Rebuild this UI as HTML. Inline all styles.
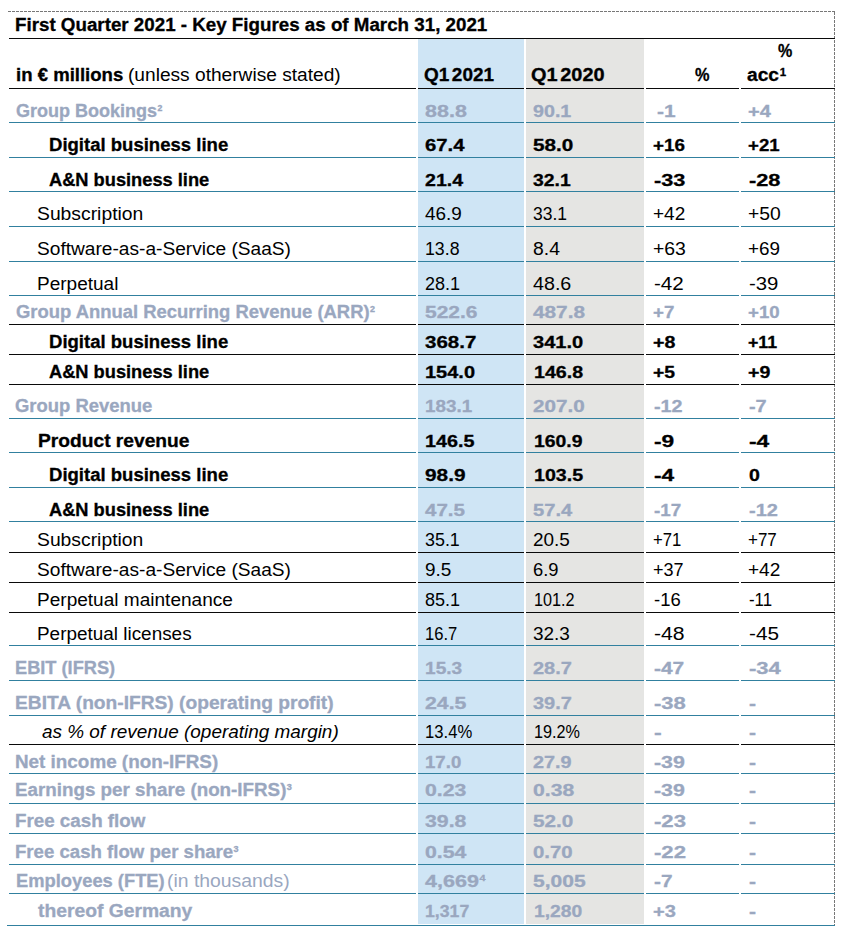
<!DOCTYPE html>
<html lang="en">
<head>
<meta charset="utf-8">
<title>First Quarter 2021 - Key Figures</title>
<style>
html,body{margin:0;padding:0;background:#fff;}
body{width:843px;height:937px;position:relative;overflow:hidden;font-family:"Liberation Sans",sans-serif;font-size:17.5px;}
.bg{position:absolute;}
.l{position:absolute;height:1px;}
.t{position:absolute;white-space:nowrap;line-height:20px;height:20px;transform-origin:0 0;display:block;}
.t sup{font-size:8.5px;line-height:0;vertical-align:baseline;position:relative;top:-6.0px;margin-left:0.4px;}
.dash-top{position:absolute;left:8px;top:11px;width:827px;height:1px;background:repeating-linear-gradient(to right,#777777 0,#777777 3px,transparent 3px,transparent 4px);}
.dash-right{position:absolute;left:834px;top:12px;width:1px;height:913px;background:repeating-linear-gradient(to bottom,#777777 0,#777777 3px,transparent 3px,transparent 4px);}
</style>
</head>
<body>
<div class="dash-top"></div>
<div class="dash-right"></div>
<div class="bg" style="left:418px;top:39px;width:106px;height:885px;background:#cfe5f5;"></div>
<div class="bg" style="left:526px;top:39px;width:118px;height:885px;background:#e5e5e3;"></div>
<div class="l" style="left:9px;top:38px;width:826px;background:#0a0a0a;"></div>
<div class="l" style="left:9px;top:88px;width:407px;background:#0a0a0a;"></div>
<div class="l" style="left:418px;top:88px;width:106px;background:#0a0a0a;"></div>
<div class="l" style="left:526px;top:88px;width:118px;background:#0a0a0a;"></div>
<div class="l" style="left:646px;top:88px;width:93px;background:#0a0a0a;"></div>
<div class="l" style="left:741px;top:88px;width:94px;background:#0a0a0a;"></div>
<div class="l" style="left:9px;top:122px;width:407px;background:#31809f;"></div>
<div class="l" style="left:418px;top:122px;width:106px;background:#31809f;"></div>
<div class="l" style="left:526px;top:122px;width:118px;background:#31809f;"></div>
<div class="l" style="left:646px;top:122px;width:93px;background:#31809f;"></div>
<div class="l" style="left:741px;top:122px;width:94px;background:#31809f;"></div>
<div class="l" style="left:9px;top:157px;width:407px;background:#31809f;"></div>
<div class="l" style="left:418px;top:157px;width:106px;background:#31809f;"></div>
<div class="l" style="left:526px;top:157px;width:118px;background:#31809f;"></div>
<div class="l" style="left:646px;top:157px;width:93px;background:#31809f;"></div>
<div class="l" style="left:741px;top:157px;width:94px;background:#31809f;"></div>
<div class="l" style="left:9px;top:191px;width:407px;background:#31809f;"></div>
<div class="l" style="left:418px;top:191px;width:106px;background:#31809f;"></div>
<div class="l" style="left:526px;top:191px;width:118px;background:#31809f;"></div>
<div class="l" style="left:646px;top:191px;width:93px;background:#31809f;"></div>
<div class="l" style="left:741px;top:191px;width:94px;background:#31809f;"></div>
<div class="l" style="left:9px;top:226px;width:407px;background:#31809f;"></div>
<div class="l" style="left:418px;top:226px;width:106px;background:#31809f;"></div>
<div class="l" style="left:526px;top:226px;width:118px;background:#31809f;"></div>
<div class="l" style="left:646px;top:226px;width:93px;background:#31809f;"></div>
<div class="l" style="left:741px;top:226px;width:94px;background:#31809f;"></div>
<div class="l" style="left:9px;top:261px;width:407px;background:#31809f;"></div>
<div class="l" style="left:418px;top:261px;width:106px;background:#31809f;"></div>
<div class="l" style="left:526px;top:261px;width:118px;background:#31809f;"></div>
<div class="l" style="left:646px;top:261px;width:93px;background:#31809f;"></div>
<div class="l" style="left:741px;top:261px;width:94px;background:#31809f;"></div>
<div class="l" style="left:9px;top:295px;width:407px;background:#31809f;"></div>
<div class="l" style="left:418px;top:295px;width:106px;background:#31809f;"></div>
<div class="l" style="left:526px;top:295px;width:118px;background:#31809f;"></div>
<div class="l" style="left:646px;top:295px;width:93px;background:#31809f;"></div>
<div class="l" style="left:741px;top:295px;width:94px;background:#31809f;"></div>
<div class="l" style="left:9px;top:324px;width:407px;background:#0a0a0a;"></div>
<div class="l" style="left:418px;top:324px;width:106px;background:#0a0a0a;"></div>
<div class="l" style="left:526px;top:324px;width:118px;background:#0a0a0a;"></div>
<div class="l" style="left:646px;top:324px;width:93px;background:#0a0a0a;"></div>
<div class="l" style="left:741px;top:324px;width:94px;background:#0a0a0a;"></div>
<div class="l" style="left:9px;top:354px;width:407px;background:#0a0a0a;"></div>
<div class="l" style="left:418px;top:354px;width:106px;background:#0a0a0a;"></div>
<div class="l" style="left:526px;top:354px;width:118px;background:#0a0a0a;"></div>
<div class="l" style="left:646px;top:354px;width:93px;background:#0a0a0a;"></div>
<div class="l" style="left:741px;top:354px;width:94px;background:#0a0a0a;"></div>
<div class="l" style="left:9px;top:384px;width:407px;background:#0a0a0a;"></div>
<div class="l" style="left:418px;top:384px;width:106px;background:#0a0a0a;"></div>
<div class="l" style="left:526px;top:384px;width:118px;background:#0a0a0a;"></div>
<div class="l" style="left:646px;top:384px;width:93px;background:#0a0a0a;"></div>
<div class="l" style="left:741px;top:384px;width:94px;background:#0a0a0a;"></div>
<div class="l" style="left:9px;top:418px;width:407px;background:#31809f;"></div>
<div class="l" style="left:418px;top:418px;width:106px;background:#31809f;"></div>
<div class="l" style="left:526px;top:418px;width:118px;background:#31809f;"></div>
<div class="l" style="left:646px;top:418px;width:93px;background:#31809f;"></div>
<div class="l" style="left:741px;top:418px;width:94px;background:#31809f;"></div>
<div class="l" style="left:9px;top:452px;width:407px;background:#31809f;"></div>
<div class="l" style="left:418px;top:452px;width:106px;background:#31809f;"></div>
<div class="l" style="left:526px;top:452px;width:118px;background:#31809f;"></div>
<div class="l" style="left:646px;top:452px;width:93px;background:#31809f;"></div>
<div class="l" style="left:741px;top:452px;width:94px;background:#31809f;"></div>
<div class="l" style="left:9px;top:487px;width:407px;background:#31809f;"></div>
<div class="l" style="left:418px;top:487px;width:106px;background:#31809f;"></div>
<div class="l" style="left:526px;top:487px;width:118px;background:#31809f;"></div>
<div class="l" style="left:646px;top:487px;width:93px;background:#31809f;"></div>
<div class="l" style="left:741px;top:487px;width:94px;background:#31809f;"></div>
<div class="l" style="left:9px;top:521px;width:407px;background:#31809f;"></div>
<div class="l" style="left:418px;top:521px;width:106px;background:#31809f;"></div>
<div class="l" style="left:526px;top:521px;width:118px;background:#31809f;"></div>
<div class="l" style="left:646px;top:521px;width:93px;background:#31809f;"></div>
<div class="l" style="left:741px;top:521px;width:94px;background:#31809f;"></div>
<div class="l" style="left:9px;top:552px;width:407px;background:#0a0a0a;"></div>
<div class="l" style="left:418px;top:552px;width:106px;background:#0a0a0a;"></div>
<div class="l" style="left:526px;top:552px;width:118px;background:#0a0a0a;"></div>
<div class="l" style="left:646px;top:552px;width:93px;background:#0a0a0a;"></div>
<div class="l" style="left:741px;top:552px;width:94px;background:#0a0a0a;"></div>
<div class="l" style="left:9px;top:582px;width:407px;background:#0a0a0a;"></div>
<div class="l" style="left:418px;top:582px;width:106px;background:#0a0a0a;"></div>
<div class="l" style="left:526px;top:582px;width:118px;background:#0a0a0a;"></div>
<div class="l" style="left:646px;top:582px;width:93px;background:#0a0a0a;"></div>
<div class="l" style="left:741px;top:582px;width:94px;background:#0a0a0a;"></div>
<div class="l" style="left:9px;top:612px;width:407px;background:#0a0a0a;"></div>
<div class="l" style="left:418px;top:612px;width:106px;background:#0a0a0a;"></div>
<div class="l" style="left:526px;top:612px;width:118px;background:#0a0a0a;"></div>
<div class="l" style="left:646px;top:612px;width:93px;background:#0a0a0a;"></div>
<div class="l" style="left:741px;top:612px;width:94px;background:#0a0a0a;"></div>
<div class="l" style="left:9px;top:645px;width:407px;background:#31809f;"></div>
<div class="l" style="left:418px;top:645px;width:106px;background:#31809f;"></div>
<div class="l" style="left:526px;top:645px;width:118px;background:#31809f;"></div>
<div class="l" style="left:646px;top:645px;width:93px;background:#31809f;"></div>
<div class="l" style="left:741px;top:645px;width:94px;background:#31809f;"></div>
<div class="l" style="left:9px;top:680px;width:407px;background:#31809f;"></div>
<div class="l" style="left:418px;top:680px;width:106px;background:#31809f;"></div>
<div class="l" style="left:526px;top:680px;width:118px;background:#31809f;"></div>
<div class="l" style="left:646px;top:680px;width:93px;background:#31809f;"></div>
<div class="l" style="left:741px;top:680px;width:94px;background:#31809f;"></div>
<div class="l" style="left:9px;top:715px;width:407px;background:#31809f;"></div>
<div class="l" style="left:418px;top:715px;width:106px;background:#31809f;"></div>
<div class="l" style="left:526px;top:715px;width:118px;background:#31809f;"></div>
<div class="l" style="left:646px;top:715px;width:93px;background:#31809f;"></div>
<div class="l" style="left:741px;top:715px;width:94px;background:#31809f;"></div>
<div class="l" style="left:9px;top:744px;width:407px;background:#0a0a0a;"></div>
<div class="l" style="left:418px;top:744px;width:106px;background:#0a0a0a;"></div>
<div class="l" style="left:526px;top:744px;width:118px;background:#0a0a0a;"></div>
<div class="l" style="left:646px;top:744px;width:93px;background:#0a0a0a;"></div>
<div class="l" style="left:741px;top:744px;width:94px;background:#0a0a0a;"></div>
<div class="l" style="left:9px;top:773px;width:407px;background:#31809f;"></div>
<div class="l" style="left:418px;top:773px;width:106px;background:#31809f;"></div>
<div class="l" style="left:526px;top:773px;width:118px;background:#31809f;"></div>
<div class="l" style="left:646px;top:773px;width:93px;background:#31809f;"></div>
<div class="l" style="left:741px;top:773px;width:94px;background:#31809f;"></div>
<div class="l" style="left:9px;top:803px;width:407px;background:#31809f;"></div>
<div class="l" style="left:418px;top:803px;width:106px;background:#31809f;"></div>
<div class="l" style="left:526px;top:803px;width:118px;background:#31809f;"></div>
<div class="l" style="left:646px;top:803px;width:93px;background:#31809f;"></div>
<div class="l" style="left:741px;top:803px;width:94px;background:#31809f;"></div>
<div class="l" style="left:9px;top:833px;width:407px;background:#31809f;"></div>
<div class="l" style="left:418px;top:833px;width:106px;background:#31809f;"></div>
<div class="l" style="left:526px;top:833px;width:118px;background:#31809f;"></div>
<div class="l" style="left:646px;top:833px;width:93px;background:#31809f;"></div>
<div class="l" style="left:741px;top:833px;width:94px;background:#31809f;"></div>
<div class="l" style="left:9px;top:864px;width:407px;background:#31809f;"></div>
<div class="l" style="left:418px;top:864px;width:106px;background:#31809f;"></div>
<div class="l" style="left:526px;top:864px;width:118px;background:#31809f;"></div>
<div class="l" style="left:646px;top:864px;width:93px;background:#31809f;"></div>
<div class="l" style="left:741px;top:864px;width:94px;background:#31809f;"></div>
<div class="l" style="left:9px;top:893px;width:407px;background:#31809f;"></div>
<div class="l" style="left:418px;top:893px;width:106px;background:#31809f;"></div>
<div class="l" style="left:526px;top:893px;width:118px;background:#31809f;"></div>
<div class="l" style="left:646px;top:893px;width:93px;background:#31809f;"></div>
<div class="l" style="left:741px;top:893px;width:94px;background:#31809f;"></div>
<div class="l" style="left:7px;top:925px;width:828px;background:#31809f;"></div>
<span class="t" style="left:15.30px;top:15.25px;font-size:18px;font-weight:bold;font-style:normal;color:#000000;-webkit-text-stroke:0.3px #000000;transform:scaleX(1.0421);">First Quarter 2021 - Key Figures as of March 31, 2021</span>
<span class="t" style="left:15.50px;top:65.25px;font-size:17.5px;font-weight:bold;font-style:normal;color:#000000;-webkit-text-stroke:0.3px #000000;transform:scaleX(1.0609);">in € millions</span>
<span class="t" style="left:127.80px;top:65.25px;font-size:17.5px;font-weight:normal;font-style:normal;color:#000000;transform:scaleX(1.0933);">(unless otherwise stated)</span>
<span class="t" style="left:424.20px;top:65.25px;font-size:17.5px;font-weight:bold;font-style:normal;color:#000000;-webkit-text-stroke:0.3px #000000;word-spacing:-2.5px;transform:scaleX(1.0829);">Q1 2021</span>
<span class="t" style="left:531.00px;top:65.25px;font-size:17.5px;font-weight:bold;font-style:normal;color:#000000;-webkit-text-stroke:0.3px #000000;word-spacing:-2.5px;transform:scaleX(1.1386);">Q1 2020</span>
<span class="t" style="left:694.60px;top:65.25px;font-size:17.5px;font-weight:bold;font-style:normal;color:#000000;-webkit-text-stroke:0.3px #000000;transform:scaleX(0.9317);">%</span>
<span class="t" style="left:778.10px;top:41.25px;font-size:17.5px;font-weight:bold;font-style:normal;color:#000000;-webkit-text-stroke:0.3px #000000;transform:scaleX(0.9189);">%</span>
<span class="t" style="left:747.10px;top:65.25px;font-size:17.5px;font-weight:bold;font-style:normal;color:#000000;-webkit-text-stroke:0.3px #000000;transform:scaleX(1.0958);">acc<sup style="font-size:10.5px;top:-5.6px;margin-left:0.6px">1</sup></span>
<span class="t" style="left:15.50px;top:101.25px;font-size:17.5px;font-weight:bold;font-style:normal;color:#9aa7bf;-webkit-text-stroke:0.3px #9aa7bf;transform:scaleX(1.0293);">Group Bookings<sup>2</sup></span>
<span class="t" style="left:424.90px;top:101.75px;font-size:17px;font-weight:bold;font-style:normal;color:#9aa7bf;-webkit-text-stroke:0.3px #9aa7bf;transform:scaleX(1.2661);">88.8</span>
<span class="t" style="left:533.30px;top:101.75px;font-size:17px;font-weight:bold;font-style:normal;color:#9aa7bf;-webkit-text-stroke:0.3px #9aa7bf;transform:scaleX(1.1573);">90.1</span>
<span class="t" style="left:656.90px;top:101.75px;font-size:17px;font-weight:bold;font-style:normal;color:#9aa7bf;-webkit-text-stroke:0.3px #9aa7bf;transform:scaleX(1.2298);">-1</span>
<span class="t" style="left:748.30px;top:101.75px;font-size:17px;font-weight:bold;font-style:normal;color:#9aa7bf;-webkit-text-stroke:0.3px #9aa7bf;transform:scaleX(1.1758);">+4</span>
<span class="t" style="left:49.40px;top:135.25px;font-size:17.5px;font-weight:bold;font-style:normal;color:#000000;-webkit-text-stroke:0.3px #000000;transform:scaleX(1.0590);">Digital business line</span>
<span class="t" style="left:425.10px;top:135.75px;font-size:17px;font-weight:bold;font-style:normal;color:#000000;-webkit-text-stroke:0.3px #000000;transform:scaleX(1.1936);">67.4</span>
<span class="t" style="left:533.30px;top:135.75px;font-size:17px;font-weight:bold;font-style:normal;color:#000000;-webkit-text-stroke:0.3px #000000;transform:scaleX(1.2178);">58.0</span>
<span class="t" style="left:653.10px;top:135.75px;font-size:17px;font-weight:bold;font-style:normal;color:#000000;-webkit-text-stroke:0.3px #000000;transform:scaleX(1.1060);">+16</span>
<span class="t" style="left:748.30px;top:135.75px;font-size:17px;font-weight:bold;font-style:normal;color:#000000;-webkit-text-stroke:0.3px #000000;transform:scaleX(1.0956);">+21</span>
<span class="t" style="left:49.40px;top:170.25px;font-size:17.5px;font-weight:bold;font-style:normal;color:#000000;-webkit-text-stroke:0.3px #000000;transform:scaleX(1.0426);">A&amp;N business line</span>
<span class="t" style="left:424.90px;top:170.75px;font-size:17px;font-weight:bold;font-style:normal;color:#000000;-webkit-text-stroke:0.3px #000000;transform:scaleX(1.1543);">21.4</span>
<span class="t" style="left:533.30px;top:170.75px;font-size:17px;font-weight:bold;font-style:normal;color:#000000;-webkit-text-stroke:0.3px #000000;transform:scaleX(1.1392);">32.1</span>
<span class="t" style="left:653.80px;top:170.75px;font-size:17px;font-weight:bold;font-style:normal;color:#000000;-webkit-text-stroke:0.3px #000000;transform:scaleX(1.2776);">-33</span>
<span class="t" style="left:748.60px;top:170.75px;font-size:17px;font-weight:bold;font-style:normal;color:#000000;-webkit-text-stroke:0.3px #000000;transform:scaleX(1.2816);">-28</span>
<span class="t" style="left:37.10px;top:204.25px;font-size:17.5px;font-weight:normal;font-style:normal;color:#000000;transform:scaleX(1.1037);">Subscription</span>
<span class="t" style="left:424.90px;top:204.25px;font-size:17.5px;font-weight:normal;font-style:normal;color:#000000;transform:scaleX(1.0804);">46.9</span>
<span class="t" style="left:533.30px;top:204.25px;font-size:17.5px;font-weight:normal;font-style:normal;color:#000000;transform:scaleX(0.9982);">33.1</span>
<span class="t" style="left:653.40px;top:204.25px;font-size:17.5px;font-weight:normal;font-style:normal;color:#000000;transform:scaleX(1.0846);">+42</span>
<span class="t" style="left:748.30px;top:204.25px;font-size:17.5px;font-weight:normal;font-style:normal;color:#000000;transform:scaleX(1.1048);">+50</span>
<span class="t" style="left:37.10px;top:239.25px;font-size:17.5px;font-weight:normal;font-style:normal;color:#000000;transform:scaleX(1.0927);">Software-as-a-Service (SaaS)</span>
<span class="t" style="left:425.20px;top:239.25px;font-size:17.5px;font-weight:normal;font-style:normal;color:#000000;transform:scaleX(1.0128);">13.8</span>
<span class="t" style="left:533.30px;top:239.25px;font-size:17.5px;font-weight:normal;font-style:normal;color:#000000;transform:scaleX(1.1057);">8.4</span>
<span class="t" style="left:653.20px;top:239.25px;font-size:17.5px;font-weight:normal;font-style:normal;color:#000000;transform:scaleX(1.1082);">+63</span>
<span class="t" style="left:748.20px;top:239.25px;font-size:17.5px;font-weight:normal;font-style:normal;color:#000000;transform:scaleX(1.0779);">+69</span>
<span class="t" style="left:37.10px;top:274.25px;font-size:17.5px;font-weight:normal;font-style:normal;color:#000000;transform:scaleX(1.0865);">Perpetual</span>
<span class="t" style="left:424.90px;top:274.25px;font-size:17.5px;font-weight:normal;font-style:normal;color:#000000;transform:scaleX(1.0305);">28.1</span>
<span class="t" style="left:533.30px;top:274.25px;font-size:17.5px;font-weight:normal;font-style:normal;color:#000000;transform:scaleX(1.1244);">48.6</span>
<span class="t" style="left:653.50px;top:274.25px;font-size:17.5px;font-weight:normal;font-style:normal;color:#000000;transform:scaleX(1.1780);">-42</span>
<span class="t" style="left:748.50px;top:274.25px;font-size:17.5px;font-weight:normal;font-style:normal;color:#000000;transform:scaleX(1.1622);">-39</span>
<span class="t" style="left:15.60px;top:302.25px;font-size:17.5px;font-weight:bold;font-style:normal;color:#9aa7bf;-webkit-text-stroke:0.3px #9aa7bf;transform:scaleX(1.0531);">Group Annual Recurring Revenue (ARR)<sup>2</sup></span>
<span class="t" style="left:424.90px;top:302.75px;font-size:17px;font-weight:bold;font-style:normal;color:#9aa7bf;-webkit-text-stroke:0.3px #9aa7bf;transform:scaleX(1.2339);">522.6</span>
<span class="t" style="left:533.30px;top:302.75px;font-size:17px;font-weight:bold;font-style:normal;color:#9aa7bf;-webkit-text-stroke:0.3px #9aa7bf;transform:scaleX(1.2222);">487.8</span>
<span class="t" style="left:653.20px;top:302.75px;font-size:17px;font-weight:bold;font-style:normal;color:#9aa7bf;-webkit-text-stroke:0.3px #9aa7bf;transform:scaleX(1.0985);">+7</span>
<span class="t" style="left:748.20px;top:302.75px;font-size:17px;font-weight:bold;font-style:normal;color:#9aa7bf;-webkit-text-stroke:0.3px #9aa7bf;transform:scaleX(1.0956);">+10</span>
<span class="t" style="left:49.40px;top:332.25px;font-size:17.5px;font-weight:bold;font-style:normal;color:#000000;-webkit-text-stroke:0.3px #000000;transform:scaleX(1.0590);">Digital business line</span>
<span class="t" style="left:424.90px;top:332.75px;font-size:17px;font-weight:bold;font-style:normal;color:#000000;-webkit-text-stroke:0.3px #000000;transform:scaleX(1.2057);">368.7</span>
<span class="t" style="left:533.30px;top:332.75px;font-size:17px;font-weight:bold;font-style:normal;color:#000000;-webkit-text-stroke:0.3px #000000;transform:scaleX(1.1822);">341.0</span>
<span class="t" style="left:653.20px;top:332.75px;font-size:17px;font-weight:bold;font-style:normal;color:#000000;-webkit-text-stroke:0.3px #000000;transform:scaleX(1.1552);">+8</span>
<span class="t" style="left:748.20px;top:332.75px;font-size:17px;font-weight:bold;font-style:normal;color:#000000;-webkit-text-stroke:0.3px #000000;transform:scaleX(1.0443);">+11</span>
<span class="t" style="left:49.40px;top:362.25px;font-size:17.5px;font-weight:bold;font-style:normal;color:#000000;-webkit-text-stroke:0.3px #000000;transform:scaleX(1.0426);">A&amp;N business line</span>
<span class="t" style="left:425.40px;top:362.75px;font-size:17px;font-weight:bold;font-style:normal;color:#000000;-webkit-text-stroke:0.3px #000000;transform:scaleX(1.1752);">154.0</span>
<span class="t" style="left:533.90px;top:362.75px;font-size:17px;font-weight:bold;font-style:normal;color:#000000;-webkit-text-stroke:0.3px #000000;transform:scaleX(1.1540);">146.8</span>
<span class="t" style="left:653.20px;top:362.75px;font-size:17px;font-weight:bold;font-style:normal;color:#000000;-webkit-text-stroke:0.3px #000000;transform:scaleX(1.1346);">+5</span>
<span class="t" style="left:748.20px;top:362.75px;font-size:17px;font-weight:bold;font-style:normal;color:#000000;-webkit-text-stroke:0.3px #000000;transform:scaleX(1.1500);">+9</span>
<span class="t" style="left:15.40px;top:396.25px;font-size:17.5px;font-weight:bold;font-style:normal;color:#9aa7bf;-webkit-text-stroke:0.3px #9aa7bf;transform:scaleX(1.0529);">Group Revenue</span>
<span class="t" style="left:425.40px;top:396.75px;font-size:17px;font-weight:bold;font-style:normal;color:#9aa7bf;-webkit-text-stroke:0.3px #9aa7bf;transform:scaleX(1.1094);">183.1</span>
<span class="t" style="left:533.30px;top:396.75px;font-size:17px;font-weight:bold;font-style:normal;color:#9aa7bf;-webkit-text-stroke:0.3px #9aa7bf;transform:scaleX(1.2151);">207.0</span>
<span class="t" style="left:653.60px;top:396.75px;font-size:17px;font-weight:bold;font-style:normal;color:#9aa7bf;-webkit-text-stroke:0.3px #9aa7bf;transform:scaleX(1.1596);">-12</span>
<span class="t" style="left:748.60px;top:396.75px;font-size:17px;font-weight:bold;font-style:normal;color:#9aa7bf;-webkit-text-stroke:0.3px #9aa7bf;transform:scaleX(1.1702);">-7</span>
<span class="t" style="left:37.70px;top:431.25px;font-size:17.5px;font-weight:bold;font-style:normal;color:#000000;-webkit-text-stroke:0.3px #000000;transform:scaleX(1.0970);">Product revenue</span>
<span class="t" style="left:425.40px;top:431.75px;font-size:17px;font-weight:bold;font-style:normal;color:#000000;-webkit-text-stroke:0.3px #000000;transform:scaleX(1.1611);">146.5</span>
<span class="t" style="left:533.90px;top:431.75px;font-size:17px;font-weight:bold;font-style:normal;color:#000000;-webkit-text-stroke:0.3px #000000;transform:scaleX(1.1399);">160.9</span>
<span class="t" style="left:653.60px;top:431.75px;font-size:17px;font-weight:bold;font-style:normal;color:#000000;-webkit-text-stroke:0.3px #000000;transform:scaleX(1.3355);">-9</span>
<span class="t" style="left:748.60px;top:431.75px;font-size:17px;font-weight:bold;font-style:normal;color:#000000;-webkit-text-stroke:0.3px #000000;transform:scaleX(1.3421);">-4</span>
<span class="t" style="left:49.40px;top:465.25px;font-size:17.5px;font-weight:bold;font-style:normal;color:#000000;-webkit-text-stroke:0.3px #000000;transform:scaleX(1.0590);">Digital business line</span>
<span class="t" style="left:424.90px;top:465.75px;font-size:17px;font-weight:bold;font-style:normal;color:#000000;-webkit-text-stroke:0.3px #000000;transform:scaleX(1.2238);">98.9</span>
<span class="t" style="left:533.90px;top:465.75px;font-size:17px;font-weight:bold;font-style:normal;color:#000000;-webkit-text-stroke:0.3px #000000;transform:scaleX(1.1540);">103.5</span>
<span class="t" style="left:653.60px;top:465.75px;font-size:17px;font-weight:bold;font-style:normal;color:#000000;-webkit-text-stroke:0.3px #000000;transform:scaleX(1.3355);">-4</span>
<span class="t" style="left:749.20px;top:465.75px;font-size:17px;font-weight:bold;font-style:normal;color:#000000;-webkit-text-stroke:0.3px #000000;transform:scaleX(1.1512);">0</span>
<span class="t" style="left:49.40px;top:500.25px;font-size:17.5px;font-weight:bold;font-style:normal;color:#000000;-webkit-text-stroke:0.3px #000000;transform:scaleX(1.0426);">A&amp;N business line</span>
<span class="t" style="left:424.90px;top:500.75px;font-size:17px;font-weight:bold;font-style:normal;color:#9aa7bf;-webkit-text-stroke:0.3px #9aa7bf;transform:scaleX(1.2087);">47.5</span>
<span class="t" style="left:533.30px;top:500.75px;font-size:17px;font-weight:bold;font-style:normal;color:#9aa7bf;-webkit-text-stroke:0.3px #9aa7bf;transform:scaleX(1.1845);">57.4</span>
<span class="t" style="left:653.60px;top:500.75px;font-size:17px;font-weight:bold;font-style:normal;color:#9aa7bf;-webkit-text-stroke:0.3px #9aa7bf;transform:scaleX(1.1067);">-17</span>
<span class="t" style="left:748.60px;top:500.75px;font-size:17px;font-weight:bold;font-style:normal;color:#9aa7bf;-webkit-text-stroke:0.3px #9aa7bf;transform:scaleX(1.1758);">-12</span>
<span class="t" style="left:37.10px;top:530.25px;font-size:17.5px;font-weight:normal;font-style:normal;color:#000000;transform:scaleX(1.1037);">Subscription</span>
<span class="t" style="left:424.90px;top:530.25px;font-size:17.5px;font-weight:normal;font-style:normal;color:#000000;transform:scaleX(1.0217);">35.1</span>
<span class="t" style="left:533.30px;top:530.25px;font-size:17.5px;font-weight:normal;font-style:normal;color:#000000;transform:scaleX(1.0833);">20.5</span>
<span class="t" style="left:653.20px;top:530.25px;font-size:17.5px;font-weight:normal;font-style:normal;color:#000000;transform:scaleX(0.9533);">+71</span>
<span class="t" style="left:748.20px;top:530.25px;font-size:17.5px;font-weight:normal;font-style:normal;color:#000000;transform:scaleX(0.9701);">+77</span>
<span class="t" style="left:37.10px;top:560.25px;font-size:17.5px;font-weight:normal;font-style:normal;color:#000000;transform:scaleX(1.0927);">Software-as-a-Service (SaaS)</span>
<span class="t" style="left:424.90px;top:560.25px;font-size:17.5px;font-weight:normal;font-style:normal;color:#000000;transform:scaleX(1.0811);">9.5</span>
<span class="t" style="left:533.30px;top:560.25px;font-size:17.5px;font-weight:normal;font-style:normal;color:#000000;transform:scaleX(1.0482);">6.9</span>
<span class="t" style="left:653.20px;top:560.25px;font-size:17.5px;font-weight:normal;font-style:normal;color:#000000;transform:scaleX(1.0307);">+37</span>
<span class="t" style="left:748.20px;top:560.25px;font-size:17.5px;font-weight:normal;font-style:normal;color:#000000;transform:scaleX(1.0880);">+42</span>
<span class="t" style="left:37.10px;top:590.25px;font-size:17.5px;font-weight:normal;font-style:normal;color:#000000;transform:scaleX(1.0884);">Perpetual maintenance</span>
<span class="t" style="left:424.90px;top:590.25px;font-size:17.5px;font-weight:normal;font-style:normal;color:#000000;transform:scaleX(1.0305);">85.1</span>
<span class="t" style="left:533.90px;top:590.25px;font-size:17.5px;font-weight:normal;font-style:normal;color:#000000;transform:scaleX(0.9270);">101.2</span>
<span class="t" style="left:653.60px;top:590.25px;font-size:17.5px;font-weight:normal;font-style:normal;color:#000000;transform:scaleX(1.0555);">-16</span>
<span class="t" style="left:748.60px;top:590.25px;font-size:17.5px;font-weight:normal;font-style:normal;color:#000000;transform:scaleX(0.9625);">-11</span>
<span class="t" style="left:37.10px;top:624.25px;font-size:17.5px;font-weight:normal;font-style:normal;color:#000000;transform:scaleX(1.0811);">Perpetual licenses</span>
<span class="t" style="left:425.40px;top:624.25px;font-size:17.5px;font-weight:normal;font-style:normal;color:#000000;transform:scaleX(0.9483);">16.7</span>
<span class="t" style="left:533.30px;top:624.25px;font-size:17.5px;font-weight:normal;font-style:normal;color:#000000;transform:scaleX(1.0833);">32.3</span>
<span class="t" style="left:653.60px;top:624.25px;font-size:17.5px;font-weight:normal;font-style:normal;color:#000000;transform:scaleX(1.2096);">-48</span>
<span class="t" style="left:748.60px;top:624.25px;font-size:17.5px;font-weight:normal;font-style:normal;color:#000000;transform:scaleX(1.1859);">-45</span>
<span class="t" style="left:15.40px;top:658.25px;font-size:17.5px;font-weight:bold;font-style:normal;color:#9aa7bf;-webkit-text-stroke:0.3px #9aa7bf;transform:scaleX(1.0410);">EBIT (IFRS)</span>
<span class="t" style="left:425.40px;top:658.75px;font-size:17px;font-weight:bold;font-style:normal;color:#9aa7bf;-webkit-text-stroke:0.3px #9aa7bf;transform:scaleX(1.1241);">15.3</span>
<span class="t" style="left:533.30px;top:658.75px;font-size:17px;font-weight:bold;font-style:normal;color:#9aa7bf;-webkit-text-stroke:0.3px #9aa7bf;transform:scaleX(1.1754);">28.7</span>
<span class="t" style="left:653.60px;top:658.75px;font-size:17px;font-weight:bold;font-style:normal;color:#9aa7bf;-webkit-text-stroke:0.3px #9aa7bf;transform:scaleX(1.2287);">-47</span>
<span class="t" style="left:748.60px;top:658.75px;font-size:17px;font-weight:bold;font-style:normal;color:#9aa7bf;-webkit-text-stroke:0.3px #9aa7bf;transform:scaleX(1.2979);">-34</span>
<span class="t" style="left:15.40px;top:693.25px;font-size:17.5px;font-weight:bold;font-style:normal;color:#9aa7bf;-webkit-text-stroke:0.3px #9aa7bf;transform:scaleX(1.0962);">EBITA (non-IFRS) (operating profit)</span>
<span class="t" style="left:424.90px;top:693.75px;font-size:17px;font-weight:bold;font-style:normal;color:#9aa7bf;-webkit-text-stroke:0.3px #9aa7bf;transform:scaleX(1.2510);">24.5</span>
<span class="t" style="left:533.30px;top:693.75px;font-size:17px;font-weight:bold;font-style:normal;color:#9aa7bf;-webkit-text-stroke:0.3px #9aa7bf;transform:scaleX(1.1754);">39.7</span>
<span class="t" style="left:653.60px;top:693.75px;font-size:17px;font-weight:bold;font-style:normal;color:#9aa7bf;-webkit-text-stroke:0.3px #9aa7bf;transform:scaleX(1.2938);">-38</span>
<span class="t" style="left:749.20px;top:693.75px;font-size:17px;font-weight:bold;font-style:normal;color:#9aa7bf;-webkit-text-stroke:0.3px #9aa7bf;transform:scaleX(1.2342);">-</span>
<span class="t" style="left:41.60px;top:722.25px;font-size:17.5px;font-weight:normal;font-style:italic;color:#000000;transform:scaleX(1.0816);">as % of revenue (operating margin)</span>
<span class="t" style="left:425.40px;top:722.25px;font-size:17.5px;font-weight:normal;font-style:normal;color:#000000;transform:scaleX(0.9511);">13.4%</span>
<span class="t" style="left:533.90px;top:722.25px;font-size:17.5px;font-weight:normal;font-style:normal;color:#000000;transform:scaleX(0.9270);">19.2%</span>
<span class="t" style="left:653.60px;top:722.75px;font-size:17px;font-weight:bold;font-style:normal;color:#9aa7bf;-webkit-text-stroke:0.3px #9aa7bf;transform:scaleX(1.3576);">-</span>
<span class="t" style="left:749.20px;top:722.75px;font-size:17px;font-weight:bold;font-style:normal;color:#9aa7bf;-webkit-text-stroke:0.3px #9aa7bf;transform:scaleX(1.2342);">-</span>
<span class="t" style="left:15.40px;top:752.25px;font-size:17.5px;font-weight:bold;font-style:normal;color:#9aa7bf;-webkit-text-stroke:0.3px #9aa7bf;transform:scaleX(1.0774);">Net income (non-IFRS)</span>
<span class="t" style="left:425.40px;top:752.75px;font-size:17px;font-weight:bold;font-style:normal;color:#9aa7bf;-webkit-text-stroke:0.3px #9aa7bf;transform:scaleX(1.0969);">17.0</span>
<span class="t" style="left:533.30px;top:752.75px;font-size:17px;font-weight:bold;font-style:normal;color:#9aa7bf;-webkit-text-stroke:0.3px #9aa7bf;transform:scaleX(1.1664);">27.9</span>
<span class="t" style="left:653.60px;top:752.75px;font-size:17px;font-weight:bold;font-style:normal;color:#9aa7bf;-webkit-text-stroke:0.3px #9aa7bf;transform:scaleX(1.2572);">-39</span>
<span class="t" style="left:749.20px;top:752.75px;font-size:17px;font-weight:bold;font-style:normal;color:#9aa7bf;-webkit-text-stroke:0.3px #9aa7bf;transform:scaleX(1.2342);">-</span>
<span class="t" style="left:15.40px;top:780.25px;font-size:17.5px;font-weight:bold;font-style:normal;color:#9aa7bf;-webkit-text-stroke:0.3px #9aa7bf;transform:scaleX(1.0735);">Earnings per share (non-IFRS)<sup>3</sup></span>
<span class="t" style="left:424.90px;top:780.75px;font-size:17px;font-weight:bold;font-style:normal;color:#9aa7bf;-webkit-text-stroke:0.3px #9aa7bf;transform:scaleX(1.2510);">0.23</span>
<span class="t" style="left:533.30px;top:780.75px;font-size:17px;font-weight:bold;font-style:normal;color:#9aa7bf;-webkit-text-stroke:0.3px #9aa7bf;transform:scaleX(1.2449);">0.38</span>
<span class="t" style="left:653.60px;top:780.75px;font-size:17px;font-weight:bold;font-style:normal;color:#9aa7bf;-webkit-text-stroke:0.3px #9aa7bf;transform:scaleX(1.2572);">-39</span>
<span class="t" style="left:749.20px;top:780.75px;font-size:17px;font-weight:bold;font-style:normal;color:#9aa7bf;-webkit-text-stroke:0.3px #9aa7bf;transform:scaleX(1.2342);">-</span>
<span class="t" style="left:15.40px;top:811.25px;font-size:17.5px;font-weight:bold;font-style:normal;color:#9aa7bf;-webkit-text-stroke:0.3px #9aa7bf;transform:scaleX(1.0726);">Free cash flow</span>
<span class="t" style="left:424.90px;top:811.75px;font-size:17px;font-weight:bold;font-style:normal;color:#9aa7bf;-webkit-text-stroke:0.3px #9aa7bf;transform:scaleX(1.2510);">39.8</span>
<span class="t" style="left:533.30px;top:811.75px;font-size:17px;font-weight:bold;font-style:normal;color:#9aa7bf;-webkit-text-stroke:0.3px #9aa7bf;transform:scaleX(1.2178);">52.0</span>
<span class="t" style="left:653.60px;top:811.75px;font-size:17px;font-weight:bold;font-style:normal;color:#9aa7bf;-webkit-text-stroke:0.3px #9aa7bf;transform:scaleX(1.3020);">-23</span>
<span class="t" style="left:749.20px;top:811.75px;font-size:17px;font-weight:bold;font-style:normal;color:#9aa7bf;-webkit-text-stroke:0.3px #9aa7bf;transform:scaleX(1.2342);">-</span>
<span class="t" style="left:15.40px;top:842.25px;font-size:17.5px;font-weight:bold;font-style:normal;color:#9aa7bf;-webkit-text-stroke:0.3px #9aa7bf;transform:scaleX(1.0632);">Free cash flow per share<sup>3</sup></span>
<span class="t" style="left:424.90px;top:842.75px;font-size:17px;font-weight:bold;font-style:normal;color:#9aa7bf;-webkit-text-stroke:0.3px #9aa7bf;transform:scaleX(1.2510);">0.54</span>
<span class="t" style="left:533.30px;top:842.75px;font-size:17px;font-weight:bold;font-style:normal;color:#9aa7bf;-webkit-text-stroke:0.3px #9aa7bf;transform:scaleX(1.1996);">0.70</span>
<span class="t" style="left:653.60px;top:842.75px;font-size:17px;font-weight:bold;font-style:normal;color:#9aa7bf;-webkit-text-stroke:0.3px #9aa7bf;transform:scaleX(1.3020);">-22</span>
<span class="t" style="left:749.20px;top:842.75px;font-size:17px;font-weight:bold;font-style:normal;color:#9aa7bf;-webkit-text-stroke:0.3px #9aa7bf;transform:scaleX(1.2342);">-</span>
<span class="t" style="left:15.60px;top:871.25px;font-size:17.5px;font-weight:bold;font-style:normal;color:#9aa7bf;-webkit-text-stroke:0.3px #9aa7bf;transform:scaleX(1.0473);">Employees (FTE)</span>
<span class="t" style="left:166.90px;top:871.25px;font-size:17.5px;font-weight:normal;font-style:normal;color:#9aa7bf;transform:scaleX(1.1063);">(in thousands)</span>
<span class="t" style="left:424.90px;top:871.75px;font-size:17px;font-weight:bold;font-style:normal;color:#9aa7bf;-webkit-text-stroke:0.3px #9aa7bf;transform:scaleX(1.2668);">4,669<sup>4</sup></span>
<span class="t" style="left:533.30px;top:871.75px;font-size:17px;font-weight:bold;font-style:normal;color:#9aa7bf;-webkit-text-stroke:0.3px #9aa7bf;transform:scaleX(1.2363);">5,005</span>
<span class="t" style="left:653.60px;top:871.75px;font-size:17px;font-weight:bold;font-style:normal;color:#9aa7bf;-webkit-text-stroke:0.3px #9aa7bf;transform:scaleX(1.2231);">-7</span>
<span class="t" style="left:749.20px;top:871.75px;font-size:17px;font-weight:bold;font-style:normal;color:#9aa7bf;-webkit-text-stroke:0.3px #9aa7bf;transform:scaleX(1.2342);">-</span>
<span class="t" style="left:37.80px;top:901.25px;font-size:17.5px;font-weight:bold;font-style:normal;color:#9aa7bf;-webkit-text-stroke:0.3px #9aa7bf;transform:scaleX(1.1018);">thereof Germany</span>
<span class="t" style="left:425.40px;top:901.75px;font-size:17px;font-weight:bold;font-style:normal;color:#9aa7bf;-webkit-text-stroke:0.3px #9aa7bf;transform:scaleX(1.0412);">1,317</span>
<span class="t" style="left:533.90px;top:901.75px;font-size:17px;font-weight:bold;font-style:normal;color:#9aa7bf;-webkit-text-stroke:0.3px #9aa7bf;transform:scaleX(1.1352);">1,280</span>
<span class="t" style="left:653.20px;top:901.75px;font-size:17px;font-weight:bold;font-style:normal;color:#9aa7bf;-webkit-text-stroke:0.3px #9aa7bf;transform:scaleX(1.1810);">+3</span>
<span class="t" style="left:749.20px;top:901.75px;font-size:17px;font-weight:bold;font-style:normal;color:#9aa7bf;-webkit-text-stroke:0.3px #9aa7bf;transform:scaleX(1.2342);">-</span>
</body>
</html>
